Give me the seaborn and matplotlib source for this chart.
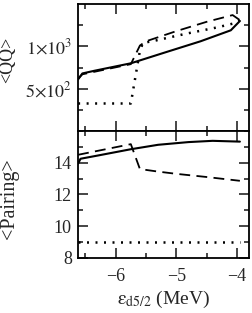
import matplotlib
matplotlib.use("Agg")
import matplotlib.pyplot as plt
import seaborn as sns
from matplotlib.ticker import FixedLocator, MultipleLocator

# top panel: <QQ>
qq_solid_x = [-6.62, -6.55, -6.35, -5.75, -5.2, -4.6, -4.1, -3.95]
qq_solid = [610, 680, 712, 800, 925, 1060, 1190, 1300]
qq_dash_x = [-6.62, -6.55, -6.35, -5.75, -5.6, -5.5, -5.0, -4.5, -4.07, -3.95]
qq_dash = [620, 670, 700, 790, 1010, 1060, 1180, 1290, 1370, 1310]
qq_dot_x = [-6.62, -5.75, -5.6, -5.55, -5.33, -4.83, -4.34, -4.06, -3.95]
qq_dot = [325, 325, 950, 1040, 1071, 1151, 1222, 1270, 1310]

# bottom panel: <Pairing>
pr_solid_x = [-6.62, -6.58, -6.3, -5.75, -5.3, -4.8, -4.4, -3.95]
pr_solid = [13.95, 14.25, 14.45, 14.85, 15.13, 15.3, 15.38, 15.33]
pr_dash_x = [-6.62, -5.75, -5.6, -5.3, -5.0, -4.5, -3.95]
pr_dash = [14.5, 15.17, 13.6, 13.44, 13.3, 13.1, 12.86]
pr_dot_x = [-6.62, -3.95]
pr_dot = [9.0, 9.0]

qq_ticks = [500, 1000]
qq_labels = [r"$5{\times}10^2$", r"$1{\times}10^3$"]
pr_ticks = [8, 10, 12, 14]
x_ticks = [-6, -5, -4]
x_labels = ["\u22126", "\u22125", "\u22124"]

sns.set_style("ticks")
plt.rcParams["font.family"] = ["Liberation Serif", "DejaVu Serif"]
plt.rcParams["mathtext.fontset"] = "stix"

fig = plt.figure(figsize=(2.52, 3.13), dpi=100)
ax1 = fig.add_axes([0.310, 0.5815, 0.678, 0.4055])
ax2 = fig.add_axes([0.310, 0.176, 0.678, 0.4055])

def draw(ax, xs, ys, style):
    if style == "solid":
        sns.lineplot(x=xs, y=ys, ax=ax, color="black", lw=1.5, sort=False)
    elif style == "dash":
        l = sns.lineplot(x=xs, y=ys, ax=ax, color="black", lw=1.3, sort=False)
        l.lines[-1].set_dashes((6, 3.5))
    else:
        l = sns.lineplot(x=xs, y=ys, ax=ax, color="black", lw=1.8, sort=False)
        l.lines[-1].set_dashes((0.8, 2.6))

draw(ax1, qq_solid_x, qq_solid, "solid")
draw(ax1, qq_dash_x, qq_dash, "dash")
draw(ax1, qq_dot_x, qq_dot, "dot")
draw(ax2, pr_solid_x, pr_solid, "solid")
draw(ax2, pr_dash_x, pr_dash, "dash")
draw(ax2, pr_dot_x, pr_dot, "dot")

for ax in (ax1, ax2):
    ax.set_xlim(-6.62, -3.8)
    ax.xaxis.set_major_locator(MultipleLocator(1))
    ax.xaxis.set_minor_locator(MultipleLocator(0.5))
    ax.tick_params(which="both", direction="in", top=True, right=True, width=1.2)
    ax.tick_params(which="major", length=7, labelsize=13, pad=4.5)
    ax.tick_params(which="minor", length=3.5)
    for s in ax.spines.values():
        s.set_linewidth(1.3)
        s.set_color("black")

ax1.set_ylim(0, 1500)
ax1.yaxis.set_major_locator(FixedLocator(qq_ticks))
ax1.set_yticklabels(qq_labels)
ax1.yaxis.set_minor_locator(FixedLocator([250, 750, 1250]))
ax1.tick_params(labelbottom=False)
ax1.set_ylabel("<QQ>", fontsize=13)

ax2.set_ylim(8, 16)
ax2.yaxis.set_major_locator(FixedLocator(pr_ticks))
ax2.yaxis.set_minor_locator(MultipleLocator(1))
ax2.set_xticks(x_ticks)
ax2.set_xticklabels(x_labels)
ax2.tick_params(axis="x", pad=7)
ax2.set_ylabel("<Pairing>", fontsize=14.5)
ax2.set_xlabel(r"$\mathrm{\varepsilon_{d5/2}}$ (MeV)", fontsize=14, labelpad=3)

ax1.yaxis.set_label_coords(-0.36, 0.56)
ax2.yaxis.set_label_coords(-0.345, 0.47)

fig.savefig("out.png", dpi=100)
